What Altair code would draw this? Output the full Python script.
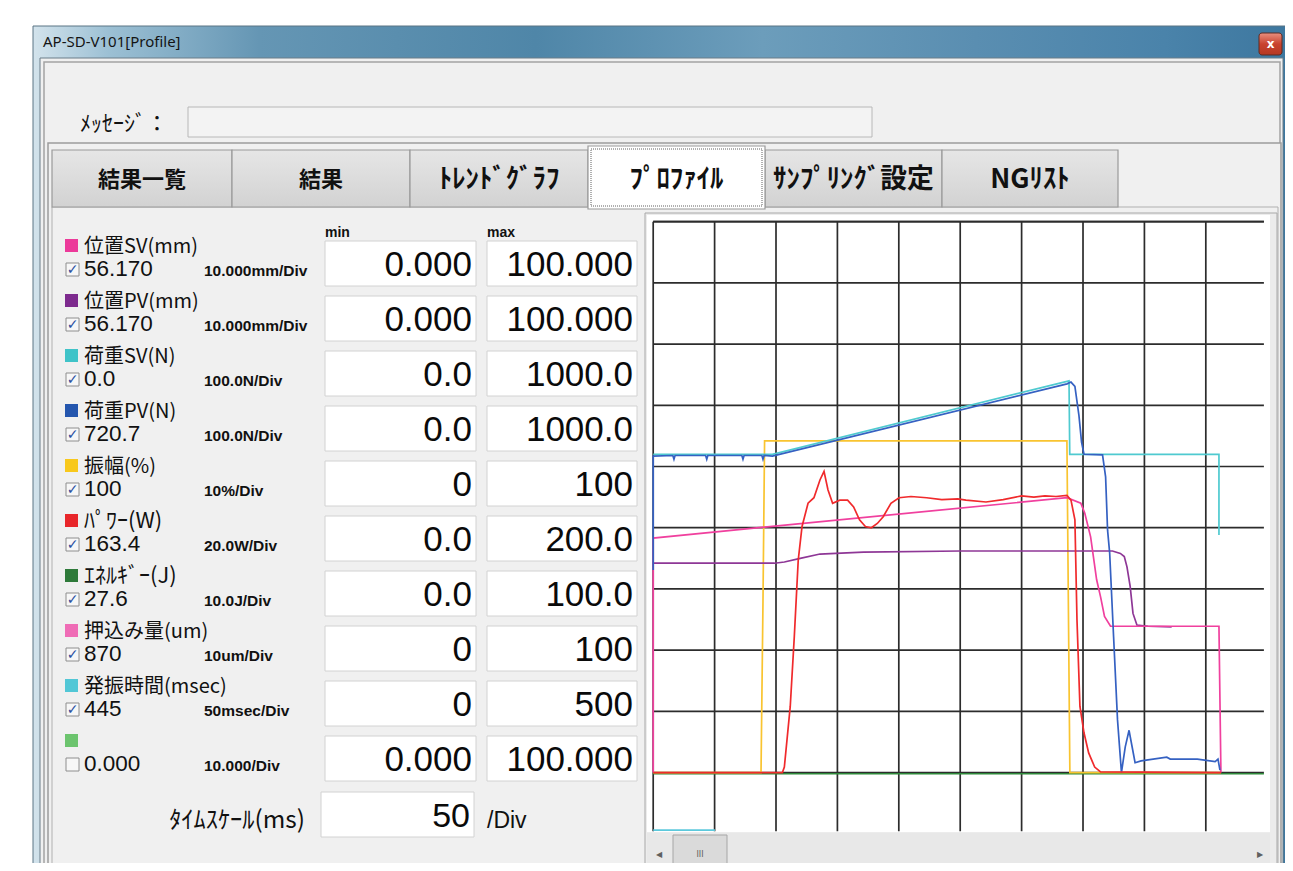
import altair as alt
import pandas as pd

# ---------------------------------------------------------------- canvas
W, H = 1277, 855          # whole picture (page minus 8px margin)
PAGE = 8

# ---------------------------------------------------------------- channel panel
CH_LABELS = ["位置SV(mm)", "位置PV(mm)", "荷重SV(N)", "荷重PV(N)", "振幅(%)",
             "ﾊﾟﾜｰ(W)", "ｴﾈﾙｷﾞｰ(J)", "押込み量(um)", "発振時間(msec)", ""]
CH_VALUES = ["56.170", "56.170", "0.0", "720.7", "100", "163.4", "27.6", "870", "445", "0.000"]
CH_DIVS = ["10.000mm/Div", "10.000mm/Div", "100.0N/Div", "100.0N/Div", "10%/Div",
           "20.0W/Div", "10.0J/Div", "10um/Div", "50msec/Div", "10.000/Div"]
CH_MIN = ["0.000", "0.000", "0.0", "0.0", "0", "0.0", "0.0", "0", "0", "0.000"]
CH_MAX = ["100.000", "100.000", "1000.0", "1000.0", "100", "200.0", "100.0", "100", "500", "100.000"]
CH_CHECKED = [1, 1, 1, 1, 1, 1, 1, 1, 1, 0]
CH_COLORS = ["#ec3a9a", "#7d2a8e", "#3fc3c8", "#2456ae", "#f8c81c",
             "#e8262a", "#2e7a3a", "#ef6cb6", "#52c7d6", "#6cc46e"]

TABS = ["結果一覧", "結果", "ﾄﾚﾝﾄﾞｸﾞﾗﾌ", "ﾌﾟﾛﾌｧｲﾙ", "ｻﾝﾌﾟﾘﾝｸﾞ設定", "NGﾘｽﾄ"]
SELECTED_TAB = 3
TIME_SCALE = "50"
WINDOW_TITLE = "AP-SD-V101[Profile]"
MESSAGE_LABEL = "ﾒｯｾｰｼﾞ："
TIME_LABEL = "ﾀｲﾑｽｹｰﾙ(ms)"

# ---------------------------------------------------------------- traces (t in ms, value in grid divisions)
ENERGY_T = [0, 497.3]
ENERGY_V = [-0.02, -0.02]
OSC_T = [0, 50.3]
OSC_V = [-0.94, -0.94]
AMP_T = [0, 87.8, 89.4, 90.7, 336.9, 339.3, 462.3]
AMP_V = [0, 0, 2.8, 5.42, 5.42, 0, 0]
POSPV_T = [0, 98.8, 106.8, 119.7, 135.8, 148.7, 171.2, 250.1, 374.0, 380.4, 383.6,
           385.8, 388.4, 390.7, 393.9, 402.9, 422.2]
POSPV_V = [3.42, 3.42, 3.44, 3.50, 3.57, 3.58, 3.60, 3.62, 3.62, 3.58, 3.53,
           3.36, 3.04, 2.60, 2.41, 2.39, 2.38]
POSSV_T = [0, 0, 90.7, 336.9, 348.2, 351.4, 356.2, 361.1, 364.3, 367.5, 372.4, 460.7, 462.3]
POSSV_V = [0, 3.83, 4.01, 4.49, 4.40, 4.24, 3.85, 3.15, 2.87, 2.55, 2.39, 2.39, 0]
LOADSV_T = [0, 97.1, 338.6, 339.2, 460.7, 460.7]
LOADSV_V = [5.20, 5.20, 6.40, 5.20, 5.20, 3.88]
LOADPV_T = [0, 0, 16.0, 16.9, 17.8, 42.7, 43.6, 44.5, 72.2, 73.1, 74.0, 88.5, 89.4, 90.3,
            97.1, 337.0, 340.2, 343.4, 346.7, 348.8, 350.8, 365.9, 368.4, 370.0, 371.7,
            374.9, 378.1, 381.3, 384.4, 387.5, 389.9, 392.4, 397.3, 418.2, 421.0, 443.1,
            457.6, 459.9, 461.5]
LOADPV_V = [3.31, 5.17, 5.18, 5.12, 5.18, 5.18, 5.12, 5.18, 5.18, 5.12, 5.18, 5.18, 5.12, 5.18,
            5.17, 6.35, 6.38, 6.31, 5.83, 5.40, 5.20, 5.19, 4.83, 3.96, 3.59,
            2.22, 0.86, 0.0, 0.42, 0.69, 0.43, 0.16, 0.19, 0.25, 0.22, 0.22,
            0.18, 0.22, 0.04]
POWER_T = [0, 105.2, 106.8, 111.6, 114.9, 118.1, 121.2, 126.1, 130.9, 135.8, 139.1, 142.3,
           146.1, 151.9, 158.3, 163.2, 168.0, 172.8, 177.6, 182.5, 187.3, 193.6, 200.2,
           209.9, 222.7, 235, 248, 254.7, 271.0, 285, 299.9, 310, 319.0, 328, 336.9,
           340.2, 343.4, 345.1, 347.5, 350.8, 354.6, 359.5, 364.3, 462.3]
POWER_V = [0, 0, 0.09, 1.08, 2.22, 3.47, 4.02, 4.40, 4.49, 4.78, 4.92, 4.62,
           4.40, 4.45, 4.45, 4.34, 4.13, 4.02, 4.00, 4.07, 4.18, 4.40, 4.49,
           4.51, 4.49, 4.46, 4.47, 4.45, 4.42, 4.46, 4.52, 4.50, 4.52, 4.51, 4.53,
           4.45, 4.13, 2.49, 1.08, 0.65, 0.32, 0.09, 0.01, 0]

# draw order bottom -> top
TRACES = [
    ("ｴﾈﾙｷﾞｰ", "#2f8a3a", ENERGY_T, ENERGY_V),
    ("発振時間", "#5cc9dc", OSC_T, OSC_V),
    ("振幅", "#f9c430", AMP_T, AMP_V),
    ("位置PV", "#8e3796", POSPV_T, POSPV_V),
    ("位置SV", "#f0409e", POSSV_T, POSSV_V),
    ("荷重SV", "#4fcad0", LOADSV_T, LOADSV_V),
    ("荷重PV", "#3561c2", LOADPV_T, LOADPV_V),
    ("ﾊﾟﾜｰ", "#f02a2c", POWER_T, POWER_V),
]

GRID_T = [0, 50, 100, 150, 200, 250, 300, 350, 400, 450]
GRID_V = [0, 1, 2, 3, 4, 5, 6, 7, 8, 9]
T_MAX = 497.3
V_MIN, V_MAX = -0.96, 9.0


def kana_size(text, base, factor=1.22):
    """half-width katakana in the original UI font is drawn wider: enlarge."""
    if any("\uff61" <= ch <= "\uff9f" for ch in text):
        return round(base * factor, 1)
    return base


# ---------------------------------------------------------------- scales
def cx(f):
    return alt.X(f, type="quantitative", axis=None,
                 scale=alt.Scale(domain=[PAGE, PAGE + W], range=[0, W], nice=False, zero=False))


def cy(f):
    return alt.Y(f, type="quantitative", axis=None,
                 scale=alt.Scale(domain=[PAGE, PAGE + H], range=[0, H], nice=False, zero=False))


def tx(f):
    return alt.X(f, type="quantitative", axis=None,
                 scale=alt.Scale(domain=[0, T_MAX], range=[653.2 - PAGE, 1263.9 - PAGE],
                                 nice=False, zero=False))


def ty(f):
    return alt.Y(f, type="quantitative", axis=None,
                 scale=alt.Scale(domain=[V_MIN, V_MAX], range=[831.3 - PAGE, 221.7 - PAGE],
                                 nice=False, zero=False))


layers = []

# ---------------------------------------------------------------- window frame (gradient)
frame = pd.DataFrame([{"x": 33, "x2": 1290, "y": 26, "y2": 880}])
layers.append(alt.Chart(frame).mark_rect(
    fill=alt.LinearGradient(gradient="linear", x1=0, x2=1, y1=0, y2=0, stops=[
        alt.GradientStop(color="#d3e3ec", offset=0),
        alt.GradientStop(color="#9cc0d4", offset=0.06),
        alt.GradientStop(color="#6596b4", offset=0.18),
        alt.GradientStop(color="#4f86a8", offset=0.4),
        alt.GradientStop(color="#6c9dbb", offset=0.58),
        alt.GradientStop(color="#5a8eb1", offset=0.75),
        alt.GradientStop(color="#4a83aa", offset=0.9),
        alt.GradientStop(color="#3d779f", offset=1)]),
    stroke="#5a7484", strokeWidth=1).encode(
    x=cx("x"), x2="x2", y=cy("y"), y2="y2"))

# ---------------------------------------------------------------- plain rects
rects = []


def rect(x, x2, y, y2, fill, stroke="#ffffff", sw=0):
    rects.append({"x": x, "x2": x2, "y": y, "y2": y2, "fill": fill, "stroke": stroke, "sw": sw})


rect(40, 1283, 58, 880, "#f0f0f0", "#6b7d88", 1)
rect(44, 1280, 62, 880, "#f0f0f0", "#a2a2a2", 1.5)
rect(188, 872, 107, 137, "#f3f3f3", "#b8b8b8", 1)
rect(48, 1281, 143, 880, "#f0f0f0", "#9c9c9c", 1.5)
rect(52, 1278, 207, 880, "#f0f0f0", "#b0b0b0", 1)
rect(645, 1277, 213, 880, "#ececec", "#a8a8a8", 1)
rect(647, 1270, 215, 832, "#ffffff")
rect(647, 1270, 833, 880, "#e8e8e8")

ROW_TOP, ROW_STEP = 241, 55
for i in range(len(CH_LABELS)):
    top = ROW_TOP + ROW_STEP * i
    rect(65, 78, top - 2, top + 11, CH_COLORS[i])
    rect(66, 79, top + 22, top + 35, "#f7f7f7", "#8e8e8e", 1)
    rect(325, 476, top, top + 45, "#ffffff", "#d2d2d2", 1)
    rect(487, 637, top, top + 45, "#ffffff", "#d2d2d2", 1)
rect(321, 474, 792, 837, "#ffffff", "#d2d2d2", 1)
rect(673, 727, 835, 880, "#dadada", "#a6a6a6", 1)

rdf = pd.DataFrame(rects)
layers.append(alt.Chart(rdf).mark_rect().encode(
    x=cx("x"), x2="x2", y=cy("y"), y2="y2",
    fill=alt.Fill("fill:N", scale=None),
    stroke=alt.Stroke("stroke:N", scale=None),
    strokeWidth=alt.StrokeWidth("sw:Q", scale=None)))

# ---------------------------------------------------------------- tabs
tab_edges = [52, 232, 410, 588, 765, 942, 1118]
tabs = pd.DataFrame([{"x": tab_edges[k], "x2": tab_edges[k + 1], "y": 150, "y2": 207}
                     for k in range(len(TABS)) if k != SELECTED_TAB])
layers.append(alt.Chart(tabs).mark_rect(
    fill=alt.LinearGradient(gradient="linear", x1=0, x2=0, y1=0, y2=1, stops=[
        alt.GradientStop(color="#e6e6e6", offset=0),
        alt.GradientStop(color="#d2d2d2", offset=1)]),
    stroke="#9a9a9a", strokeWidth=1.2).encode(x=cx("x"), x2="x2", y=cy("y"), y2="y2"))
sel = pd.DataFrame([{"x": tab_edges[SELECTED_TAB], "x2": tab_edges[SELECTED_TAB + 1],
                     "y": 146, "y2": 209}])
layers.append(alt.Chart(sel).mark_rect(fill="#ffffff", stroke="#9a9a9a", strokeWidth=1.2).encode(
    x=cx("x"), x2="x2", y=cy("y"), y2="y2"))
focus = pd.DataFrame([{"x": tab_edges[SELECTED_TAB] + 3, "x2": tab_edges[SELECTED_TAB + 1] - 3,
                       "y": 149, "y2": 206}])
layers.append(alt.Chart(focus).mark_rect(fill="#ffffff", stroke="#606060", strokeWidth=1,
                                         strokeDash=[1, 1]).encode(
    x=cx("x"), x2="x2", y=cy("y"), y2="y2"))

# close button
close = pd.DataFrame([{"x": 1259, "x2": 1282, "y": 33, "y2": 55}])
layers.append(alt.Chart(close).mark_rect(
    fill=alt.LinearGradient(gradient="linear", x1=0, x2=0, y1=0, y2=1, stops=[
        alt.GradientStop(color="#e9907f", offset=0),
        alt.GradientStop(color="#c9432f", offset=0.5),
        alt.GradientStop(color="#b53822", offset=1)]),
    stroke="#5d2a22", strokeWidth=1, cornerRadius=3).encode(x=cx("x"), x2="x2", y=cy("y"), y2="y2"))


def texts(rows, **kw):
    df = pd.DataFrame(rows)
    enc = dict(x=cx("x"), y=cy("y"), text="t:N")
    if "c" in df.columns:
        enc["color"] = alt.Color("c:N", scale=None)
    if "fs" in df.columns:
        enc["size"] = alt.Size("fs:Q", scale=None)
    return alt.Chart(df).mark_text(**kw).encode(**enc)


tab_text = [{"t": TABS[k], "x": (tab_edges[k] + tab_edges[k + 1]) / 2, "y": 180,
             "fs": kana_size(TABS[k], 22)} for k in range(len(TABS))]
layers.append(texts(tab_text, font="Noto Sans CJK JP", fontWeight="bold", color="#111111",
                    align="center", baseline="middle"))

layers.append(texts([{"x": 1270.5, "y": 44, "t": "x"}], font="DejaVu Sans", fontSize=12,
                    fontWeight="bold", color="#ffffff", align="center", baseline="middle"))
layers.append(texts([{"x": 43, "y": 47, "t": WINDOW_TITLE}], font="Noto Sans", fontSize=15,
                    color="#141414", align="left", baseline="alphabetic"))
layers.append(texts([{"x": 80, "y": 131, "t": MESSAGE_LABEL, "fs": kana_size(MESSAGE_LABEL, 18)}],
                    font="Noto Sans CJK JP", color="#111111", align="left", baseline="alphabetic"))

# ---------------------------------------------------------------- channel panel texts
lab, val, div, mins, maxs, chk = [], [], [], [], [], []
for i in range(len(CH_LABELS)):
    top = ROW_TOP + ROW_STEP * i
    lab.append({"x": 84, "y": top + 12, "t": CH_LABELS[i], "fs": kana_size(CH_LABELS[i], 20, 1.1)})
    val.append({"x": 84, "y": top + 35, "t": CH_VALUES[i]})
    div.append({"x": 204, "y": top + 35, "t": CH_DIVS[i]})
    mins.append({"x": 472, "y": top + 35, "t": CH_MIN[i]})
    maxs.append({"x": 633, "y": top + 35, "t": CH_MAX[i]})
    if CH_CHECKED[i]:
        chk.append({"x": 72.5, "y": top + 28.5, "t": "✓"})

layers.append(texts(lab, font="Noto Sans CJK JP", color="#111111",
                    align="left", baseline="alphabetic"))
layers.append(texts(val, font="Liberation Sans", fontSize=22.5, color="#111111",
                    align="left", baseline="alphabetic"))
layers.append(texts(div, font="Liberation Sans", fontSize=15.5, fontWeight="bold", color="#111111",
                    align="left", baseline="alphabetic"))
layers.append(texts(mins + maxs, font="Liberation Sans", fontSize=35, color="#0a0a0a",
                    align="right", baseline="alphabetic"))
layers.append(texts(chk, font="DejaVu Sans", fontSize=14, fontWeight="bold", color="#2b4fa0",
                    align="center", baseline="middle"))
layers.append(texts([{"x": 325, "y": 237, "t": "min"}, {"x": 487, "y": 237, "t": "max"}],
                    font="Liberation Sans", fontSize=14, fontWeight="bold", color="#111111",
                    align="left", baseline="alphabetic"))
layers.append(texts([{"x": 305, "y": 828, "t": TIME_LABEL, "fs": kana_size(TIME_LABEL, 20)}],
                    font="Noto Sans CJK JP", color="#111111", align="right", baseline="alphabetic"))
layers.append(texts([{"x": 470, "y": 827, "t": TIME_SCALE}], font="Liberation Sans",
                    fontSize=34, color="#0a0a0a", align="right", baseline="alphabetic"))
layers.append(texts([{"x": 487, "y": 828, "t": "/Div"}], font="Liberation Sans",
                    fontSize=23, color="#111111", align="left", baseline="alphabetic"))
# scrollbar glyphs
layers.append(texts([{"x": 659, "y": 855, "t": "◀"}, {"x": 1260, "y": 855, "t": "▶"},
                     {"x": 700, "y": 855, "t": "III"}],
                    font="DejaVu Sans", fontSize=8, color="#606060", align="center",
                    baseline="middle"))

# ---------------------------------------------------------------- plot grid
vgrid = pd.DataFrame({"t": GRID_T, "lo": V_MIN, "hi": V_MAX})
hgrid = pd.DataFrame({"v": GRID_V + [V_MAX], "lo": 0, "hi": T_MAX})
layers.append(alt.Chart(vgrid).mark_rule(color="#2c2c2c", strokeWidth=1.7).encode(
    x=tx("t"), y=ty("lo"), y2="hi"))
layers.append(alt.Chart(hgrid).mark_rule(color="#2c2c2c", strokeWidth=1.7).encode(
    y=ty("v"), x=tx("lo"), x2="hi"))

# ---------------------------------------------------------------- traces
for name, color, ts, vs in TRACES:
    df = pd.DataFrame({"t": ts, "v": vs, "i": list(range(len(ts))), "s": name})
    layers.append(alt.Chart(df).mark_line(color=color, strokeWidth=1.7).encode(
        x=tx("t"), y=ty("v"), order="i:Q"))

chart = alt.layer(*layers).resolve_scale(x="independent", y="independent").properties(
    width=W, height=H, padding=0, autosize="none", background="#ffffff"
).configure_view(stroke=None)

chart.save("out.html", embed_options={"renderer": "svg", "actions": False})
